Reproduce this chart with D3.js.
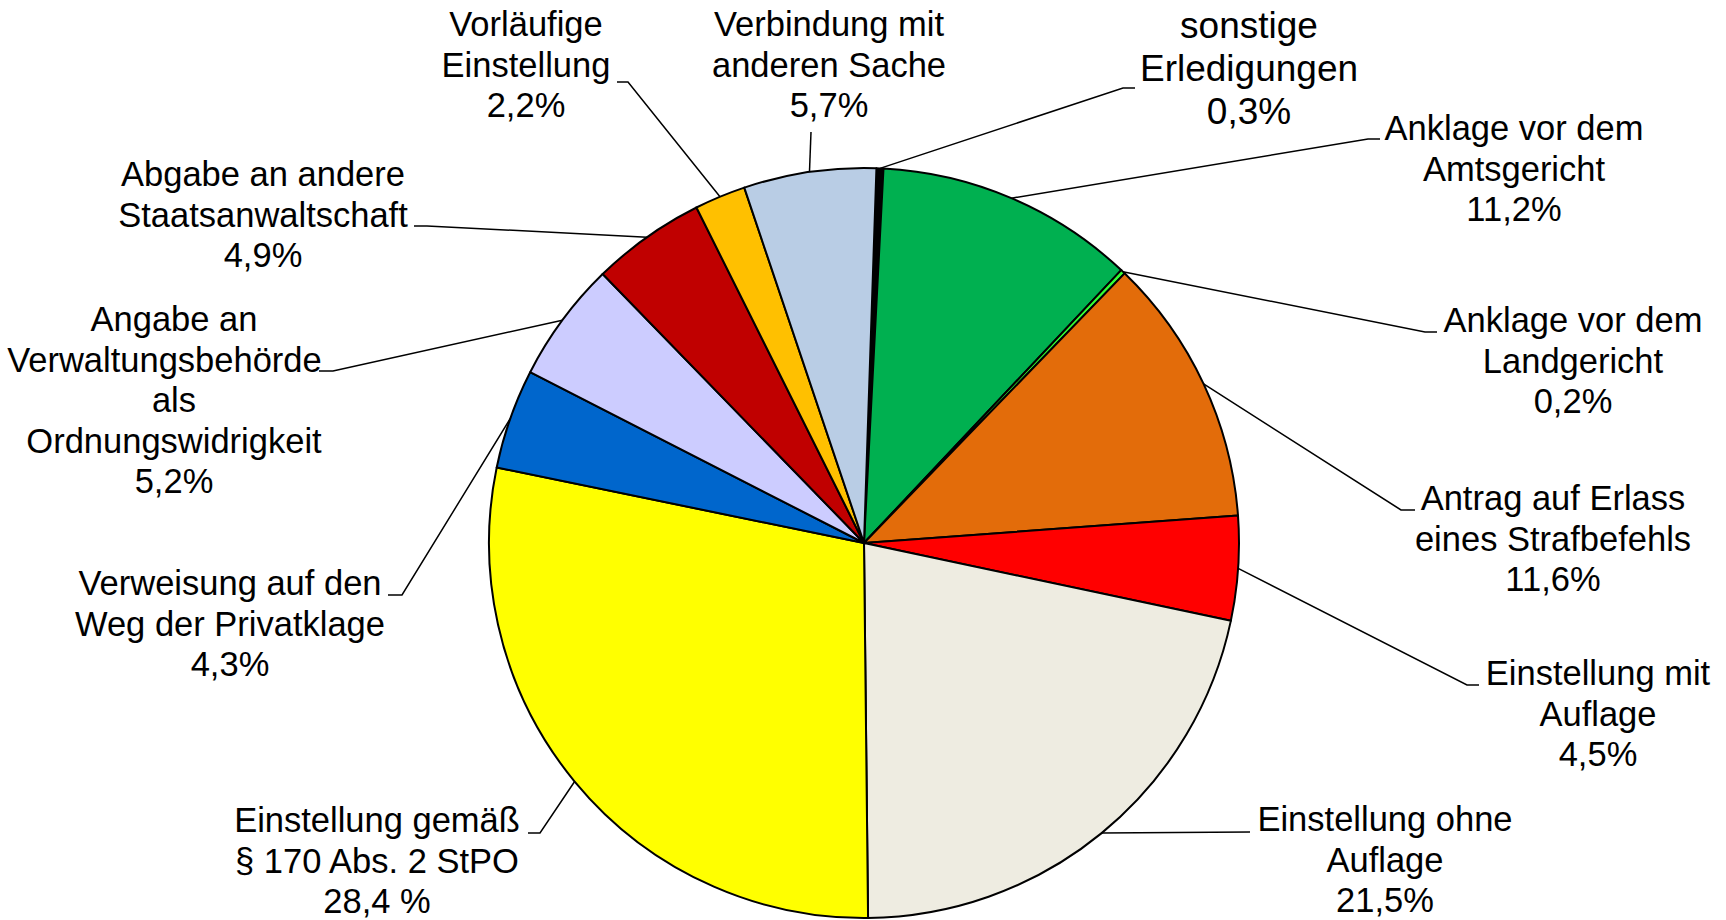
<!DOCTYPE html>
<html>
<head>
<meta charset="utf-8">
<script src="https://cdn.jsdelivr.net/npm/d3@7"></script>
<style>
  body { margin: 0; background: #ffffff; }
  text { font-family: "Liberation Sans", Arial, sans-serif; fill: #000; }
</style>
</head>
<body>
<div id="chart"></div>
<script>
//------------------------------------------------------------
// data (clockwise from top)
//------------------------------------------------------------
const categories = [
    ["sonstige", "Erledigungen"],
    ["Anklage vor dem", "Amtsgericht"],
    ["Anklage vor dem", "Landgericht"],
    ["Antrag auf Erlass", "eines Strafbefehls"],
    ["Einstellung mit", "Auflage"],
    ["Einstellung ohne", "Auflage"],
    ["Einstellung gemäß", "§ 170 Abs. 2 StPO"],
    ["Verweisung auf den", "Weg der Privatklage"],
    ["Angabe an", "Verwaltungsbehörde\u00a0\u00a0", "als", "Ordnungswidrigkeit"],
    ["Abgabe an andere", "Staatsanwaltschaft"],
    ["Vorläufige", "Einstellung"],
    ["Verbindung mit", "anderen Sache"]
];
const values = [0.3, 11.2, 0.2, 11.6, 4.5, 21.5, 28.4, 4.3, 5.2, 4.9, 2.2, 5.7];
const valueLabels = ["0,3%", "11,2%", "0,2%", "11,6%", "4,5%", "21,5%", "28,4 %", "4,3%", "5,2%", "4,9%", "2,2%", "5,7%"];
const colors = ["#000000", "#00b050", "#33ff33", "#e36c0a", "#ff0000", "#eeece1",
                "#ffff00", "#0066cc", "#ccccff", "#c00000", "#ffc000", "#b9cde5"];

//------------------------------------------------------------
// layout of the labels (manual placement as in the original)
//------------------------------------------------------------
const labelLayout = [
    {x: 1249, y: 38,  size: 37, lh: 43,   elbow: [1123, 88],  tail: 1135},
    {x: 1514, y: 140, size: 34.5, lh: 40.5, elbow: [1368, 139], tail: 1380},
    {x: 1573, y: 332, size: 34.5, lh: 40.5, elbow: [1425, 332], tail: 1437},
    {x: 1553, y: 510, size: 34.5, lh: 40.5, elbow: [1401, 510], tail: 1415},
    {x: 1598, y: 685, size: 34.5, lh: 40.5, elbow: [1467, 685], tail: 1479},
    {x: 1385, y: 831, size: 34.5, lh: 40.5, elbow: [1250, 832], tail: null},
    {x: 377,  y: 832, size: 34.5, lh: 40.5, elbow: [540, 833],  tail: 528},
    {x: 230,  y: 595, size: 34.5, lh: 40.5, elbow: [402, 595],  tail: 388},
    {x: 174,  y: 331, size: 34.5, lh: 40.5, elbow: [333, 371],  tail: 319},
    {x: 263,  y: 186, size: 34.5, lh: 40.5, elbow: [427, 226],  tail: 414},
    {x: 526,  y: 36,  size: 34.5, lh: 40.5, elbow: [628, 82],   tail: 617},
    {x: 829,  y: 36,  size: 34.5, lh: 40.5, elbow: [811, 132],  tail: null}
];

const properties = {
    width: 1726,
    height: 920,
    center: {x: 864, y: 543},
    radius: 375,
    startAngle: 1.9 * Math.PI / 180
};

const svg = d3.select("#chart")
    .append("svg")
    .attr("width", properties.width)
    .attr("height", properties.height);

svg.append("rect")
    .attr("width", properties.width)
    .attr("height", properties.height)
    .attr("fill", "#ffffff");

const pie = d3.pie()
    .sort(null)
    .value(d => d)
    .startAngle(properties.startAngle)
    .endAngle(properties.startAngle + 2 * Math.PI);

const arcs = pie(values);

const arc = d3.arc()
    .innerRadius(0)
    .outerRadius(properties.radius);

// point on the rim at the middle of a slice
const rim = d3.arc()
    .innerRadius(properties.radius)
    .outerRadius(properties.radius);

const pieGroup = svg.append("g")
    .attr("transform", `translate(${properties.center.x},${properties.center.y})`);

pieGroup.selectAll("path")
    .data(arcs)
    .enter()
    .append("path")
    .attr("d", arc)
    .attr("fill", (d, i) => colors[i])
    .attr("stroke", "#000000")
    .attr("stroke-width", 2)
    .attr("stroke-linejoin", "round");

//leader lines
const line = d3.line();
svg.append("g")
    .selectAll("path")
    .data(arcs)
    .enter()
    .append("path")
    .attr("d", (d, i) => {
        const c = rim.centroid(d);
        const l = labelLayout[i];
        const pts = [[properties.center.x + c[0], properties.center.y + c[1]], l.elbow];
        if (l.tail !== null) pts.push([l.tail, l.elbow[1]]);
        return line(pts);
    })
    .attr("fill", "none")
    .attr("stroke", "#000000")
    .attr("stroke-width", 1.5);

//labels
const labels = svg.append("g")
    .selectAll("text")
    .data(arcs)
    .enter()
    .append("text")
    .attr("text-anchor", "middle")
    .attr("font-size", (d, i) => labelLayout[i].size)
    .style("white-space", "pre");

labels.each(function (d, i) {
    const l = labelLayout[i];
    const rows = categories[i].concat([valueLabels[i]]);
    d3.select(this).selectAll("tspan")
        .data(rows)
        .enter()
        .append("tspan")
        .attr("x", l.x)
        .attr("y", (r, j) => l.y + j * l.lh)
        .text(r => r);
});
</script>
</body>
</html>
